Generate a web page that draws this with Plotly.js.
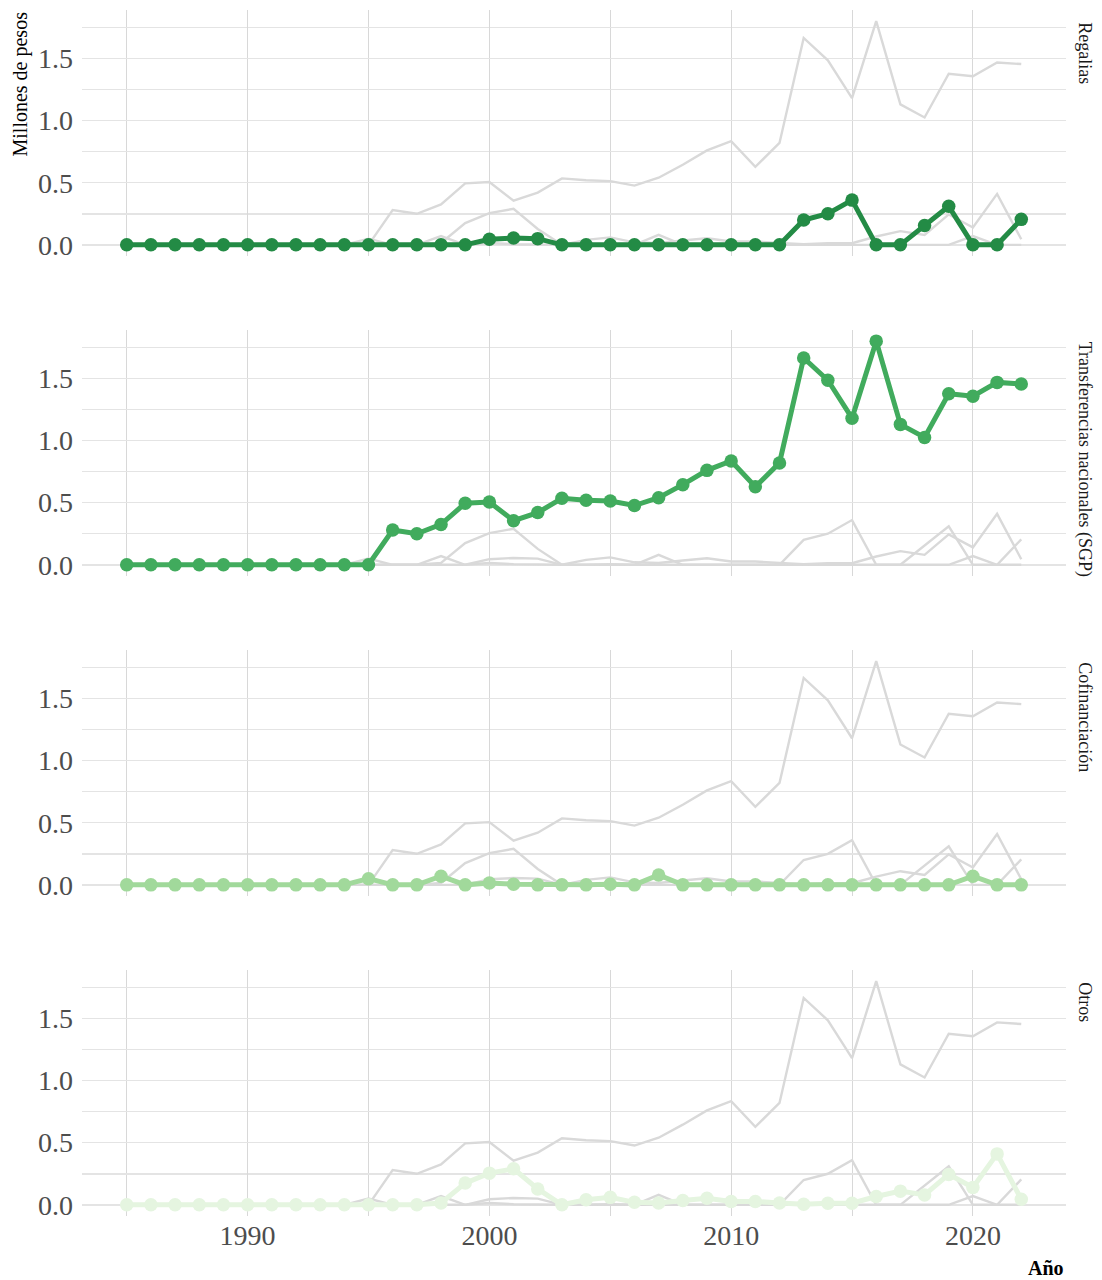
<!DOCTYPE html>
<html>
<head>
<meta charset="utf-8">
<script src="https://cdn.plot.ly/plotly-3.0.1.min.js"></script>
<style>html,body{margin:0;padding:0;background:#fff;}#chart{width:1102px;height:1280px;}</style>
</head>
<body>
<div id="chart"></div>
<script>
const years = [];
for (let y = 1985; y <= 2022; y++) years.push(y);

const seriesNames = ["Regalias", "Transferencias nacionales (SGP)", "Cofinanciación", "Otros"];
const seriesColors = ["#238b45", "#41ab5d", "#a1d99b", "#e5f5e0"];

const regalias = [0,0,0,0,0,0,0,0,0,0,0,0,0,0,0,
  0.045,0.055,0.05,
  0,0,0,0,0,0,0,0,0,0,
  0.20,0.25,0.36,0,0,0.155,0.31,0,0,0.205];

const transferencias = [0,0,0,0,0,0,0,0,0,0,0,
  0.28,0.25,0.325,0.495,0.505,0.355,0.42,0.535,0.52,0.513,0.477,0.54,0.645,0.76,0.835,0.628,0.82,
  1.665,1.485,1.18,1.80,1.13,1.025,1.377,1.357,1.468,1.455];

const cofinanciacion = [0,0,0,0,0,0,0,0,0,0,
  0.05,0,0,0.07,0,0.015,0.005,0,0,0,0.005,0,0.08,
  0,0,0,0,0,0,0,0,0,0,0,0,
  0.07,0,0];

const otros = [0,0,0,0,0,0,0,0,0,0,0,0,0,
  0.015,0.175,0.255,0.29,0.128,0,0.04,0.06,0.02,0.015,0.035,0.053,0.027,0.027,0.015,0.005,0.013,0.013,
  0.067,0.11,0.08,0.245,0.14,0.41,0.045];

const allSeries = [regalias, transferencias, cofinanciacion, otros];

const FONT = "Liberation Serif, Times New Roman, serif";
const TICKCOL = "#4d4d4d";
const GRIDCOL = "#e4e4e4";
const VGRIDCOL = "#d8d8d8";

// panel geometry (paper fractions)
const domains = [[0.7960, 1.0], [0.5307, 0.7347], [0.2653, 0.4693], [0.0, 0.2040]];

const traces = [];
const layout = {
  width: 1102, height: 1280,
  margin: {l: 82, r: 36, t: 10, b: 64},
  paper_bgcolor: "#ffffff",
  plot_bgcolor: "#ffffff",
  showlegend: false,
  font: {family: FONT, color: TICKCOL},
  annotations: []
};

for (let p = 0; p < 4; p++) {
  const xa = p === 0 ? "x" : "x" + (p + 1);
  const ya = p === 0 ? "y" : "y" + (p + 1);
  // grey background series
  for (let s = 0; s < 4; s++) {
    traces.push({
      x: years, y: allSeries[s], xaxis: xa, yaxis: ya,
      type: "scatter", mode: "lines",
      line: {color: "#d9d9d9", width: 2.4},
      hoverinfo: "skip"
    });
  }
  traces.push({
    x: years, y: allSeries[p], xaxis: xa, yaxis: ya,
    type: "scatter", mode: "lines+markers",
    line: {color: seriesColors[p], width: 5},
    marker: {color: seriesColors[p], size: 13.5},
    name: seriesNames[p],
    cliponaxis: false
  });

  const xkey = p === 0 ? "xaxis" : "xaxis" + (p + 1);
  const ykey = p === 0 ? "yaxis" : "yaxis" + (p + 1);
  layout[xkey] = {
    domain: [0, 1], anchor: ya,
    range: [1983.15, 2023.85],
    tickvals: [1990, 2000, 2010, 2020],
    showticklabels: p === 3,
    tickfont: {family: FONT, size: 28, color: TICKCOL},
    showgrid: true, gridcolor: VGRIDCOL, gridwidth: 1,
    minor: {tickvals: [1985, 1995, 2005, 2015], showgrid: true, gridcolor: VGRIDCOL, gridwidth: 1},
    zeroline: false, showline: false, ticks: ""
  };
  layout[ykey] = {
    domain: domains[p], anchor: xa,
    range: [-0.09, 1.89],
    tickvals: [0, 0.5, 1.0, 1.5], tickformat: ".1f",
    tickfont: {family: FONT, size: 28, color: TICKCOL},
    showgrid: true, gridcolor: GRIDCOL, gridwidth: 1.5,
    minor: {tickvals: [0.25, 0.75, 1.25, 1.75], showgrid: true, gridcolor: GRIDCOL, gridwidth: 1.5},
    zeroline: false, showline: false, ticks: "",
    ticklabelstandoff: 8
  };
  layout.annotations.push({
    text: seriesNames[p], xref: "paper", yref: "paper",
    x: 1.019, y: domains[p][1], xanchor: "center", yanchor: "top",
    yshift: -10, textangle: 90, showarrow: false,
    font: {family: FONT, size: 18, color: "#1a1a1a"}
  });
}

layout.annotations.push({
  text: "Millones de pesos", xref: "paper", yref: "paper",
  x: -0.063, y: 1.0, xanchor: "center", yanchor: "top",
  textangle: -90, showarrow: false,
  font: {family: FONT, size: 20, color: "#000000"}
});
layout.annotations.push({
  text: "<b>Año</b>", xref: "paper", yref: "paper",
  x: 1.0, y: -0.0431, xanchor: "right", yanchor: "middle",
  showarrow: false,
  font: {family: FONT, size: 20, color: "#000000"}
});

Plotly.newPlot("chart", traces, layout, {staticPlot: true, displayModeBar: false});
</script>
</body>
</html>
